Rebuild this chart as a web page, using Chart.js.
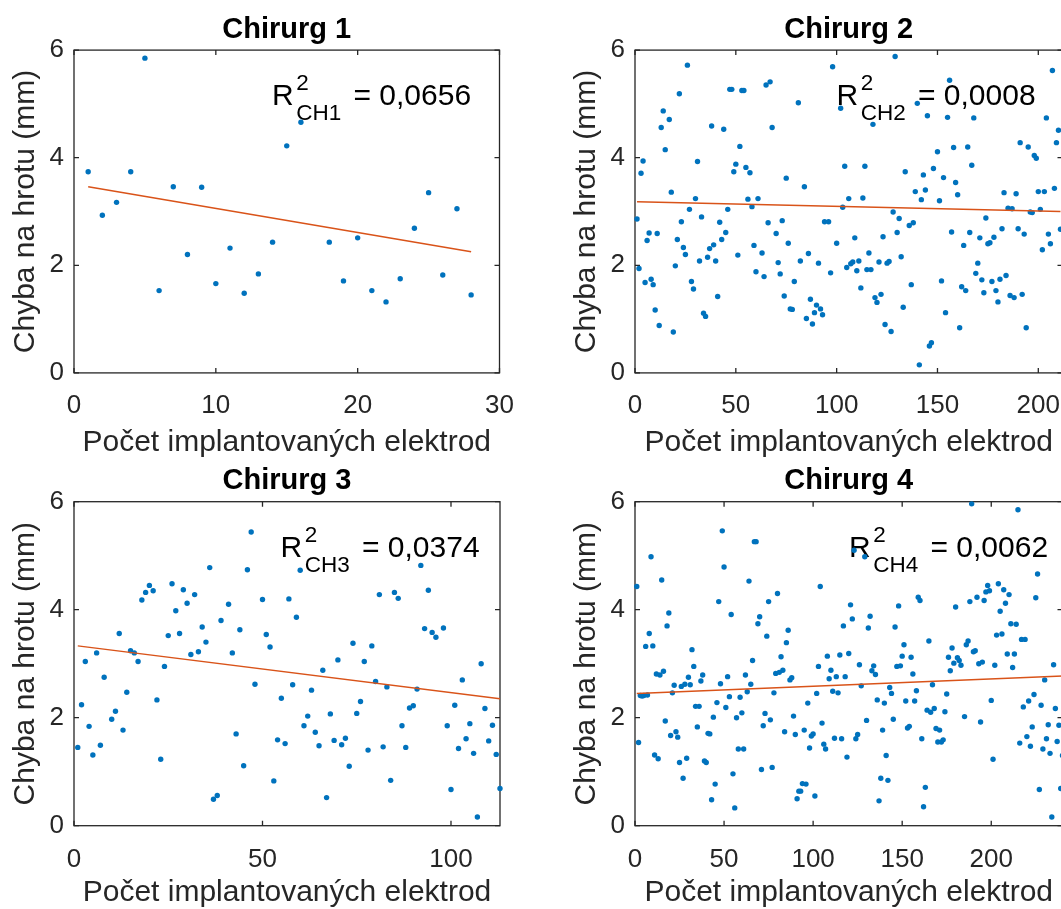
<!DOCTYPE html>
<html>
<head>
<meta charset="utf-8">
<script src="https://cdn.jsdelivr.net/npm/chart.js@4.4.1/dist/chart.umd.min.js"></script>
<style>
  html, body { margin: 0; padding: 0; background: #fff; overflow: hidden; width: 1061px; height: 909px; }
  canvas { position: absolute; }
</style>
</head>
<body>
<canvas id="c1" width="561" height="470" style="left:0;top:0"></canvas>
<canvas id="c2" width="561" height="470" style="left:561px;top:0"></canvas>
<canvas id="c3" width="561" height="470" style="left:0;top:455px"></canvas>
<canvas id="c4" width="561" height="470" style="left:561px;top:455px"></canvas>
<script>
// ---- data: tip error (mm) versus number of implanted electrodes, per surgeon ----
const xLabel = 'Počet implantovaných elektrod';
const yLabel = 'Chyba na hrotu (mm)';
const panelTitles = ['Chirurg 1', 'Chirurg 2', 'Chirurg 3', 'Chirurg 4'];
const r2Subscripts = ['CH1', 'CH2', 'CH3', 'CH4'];
const r2Values = ['0,0656', '0,0008', '0,0374', '0,0062'];
const yTicks = [0, 2, 4, 6];

const ch1X = [1,2,3,4,5,6,7,8,9,10,11,12,13,14,15,16,18,19,20,21,22,23,24,25,26,27,28];
const ch1Y = [3.74,2.93,3.17,3.74,5.85,1.53,3.46,2.20,3.45,1.66,2.32,1.48,1.84,2.43,4.22,4.66,2.43,1.71,2.51,1.53,1.32,1.75,2.69,3.35,1.82,3.05,1.45];
const ch1FitX = [1, 28];
const ch1FitY = [3.46, 2.25];

const ch2X = [1,2,3,4,5,6,7,8,9,10,11,12,13,14,15,17,18,19,20,21,22,23,24,25,26,27,28,29,30,
  31,32,33,34,35,36,37,38,39,40,41,42,43,44,45,46,47,48,49,50,51,52,53,54,55,56,57,58,59,60,
  61,63,64,65,66,67,68,70,71,72,73,74,75,76,77,78,79,81,82,84,85,86,87,88,89,90,
  91,92,93,94,96,97,98,100,102,103,104,105,106,107,108,109,110,111,112,113,114,115,116,117,118,119,120,
  121,122,123,124,125,126,127,128,129,130,131,132,133,134,136,137,138,139,140,141,142,143,144,145,146,147,148,150,
  151,152,153,154,155,156,157,158,159,160,161,162,163,164,165,166,167,168,169,170,171,172,173,174,175,176,177,178,179,180,
  181,182,183,184,185,186,187,188,189,190,191,192,193,194,195,196,197,198,199,200,201,202,203,204,205,206,207,208,209,210,211];
const ch2Y = [2.86,1.94,3.71,3.94,1.68,2.46,2.60,1.74,1.64,1.17,2.59,0.88,4.56,4.87,4.15,4.71,3.36,0.76,1.99,2.48,5.19,2.81,2.33,2.20,5.72,3.04,1.70,1.56,3.24,
  3.93,2.08,2.90,1.11,1.05,2.15,2.31,4.59,2.38,2.08,1.42,2.80,2.48,4.53,2.61,3.04,5.27,5.27,3.74,3.88,2.19,4.21,5.25,5.25,3.82,3.23,3.72,3.09,2.37,1.88,
  3.24,2.23,1.79,5.35,2.79,5.41,4.56,2.59,2.05,1.84,2.83,1.43,3.62,2.41,1.19,1.18,1.70,5.02,2.08,3.46,1.01,2.22,1.37,0.91,1.12,1.26,
  2.04,1.19,1.08,2.81,2.81,1.86,5.69,2.41,4.92,3.08,3.84,1.96,3.24,2.03,2.06,2.51,1.90,2.08,1.58,3.25,3.84,1.92,2.23,1.92,4.62,1.40,1.31,
  2.06,1.46,2.53,0.90,2.04,2.07,0.77,2.99,5.88,2.61,2.87,2.16,1.22,3.74,2.74,1.64,2.79,3.37,5.01,0.15,3.22,3.68,3.40,4.78,0.50,0.56,3.80,4.11,
  3.20,1.71,3.63,1.12,4.75,5.44,2.62,4.19,3.54,3.31,0.84,1.60,2.37,1.53,4.20,2.61,3.86,4.74,1.85,2.04,2.51,1.73,1.49,2.88,2.40,2.42,1.70,2.52,1.53,1.32,
  1.74,2.68,3.35,1.81,3.06,1.44,3.05,1.40,3.33,2.68,4.28,1.46,2.58,0.84,4.20,2.99,2.98,4.04,3.99,3.37,3.04,2.29,3.37,4.74,2.58,2.40,5.62,3.43,4.28,4.51,2.67];
const ch2FitX = [1, 211];
const ch2FitY = [3.18, 3.00];

const ch3X = [1,2,3,4,5,6,7,8,10,11,12,13,14,15,16,17,18,19,20,21,22,23,24,25,26,27,28,29,30,
  31,32,33,34,35,36,37,38,39,41,42,43,44,45,46,47,48,50,51,52,53,54,55,56,57,58,59,60,
  61,62,63,64,65,66,67,68,69,70,71,72,73,74,75,76,77,78,79,80,81,82,83,84,85,86,87,88,89,90,
  91,92,93,94,95,96,98,99,100,101,102,103,104,105,106,107,108,109,110,111,112,113];
const ch3Y = [1.45,2.24,3.04,1.84,1.31,3.20,1.49,2.75,1.97,2.12,3.56,1.77,2.47,3.24,3.20,3.04,4.18,4.32,4.45,4.35,2.33,1.23,2.95,3.52,4.48,3.98,3.56,4.37,4.12,
  3.17,4.28,3.22,3.68,3.40,4.78,0.49,0.56,3.80,4.10,3.20,1.70,3.63,1.11,4.74,5.44,2.62,4.19,3.54,3.31,0.83,1.59,2.36,1.52,4.20,2.61,3.86,4.73,
  1.85,2.03,2.51,1.73,1.48,2.88,0.52,2.07,1.58,3.07,1.50,1.62,1.10,3.38,2.08,2.30,3.04,1.40,3.33,2.67,4.28,1.46,2.57,0.84,4.32,4.21,1.85,1.45,2.18,2.22,
  2.53,4.82,3.65,4.36,3.58,3.49,3.66,1.85,0.67,2.23,1.43,2.70,1.61,1.89,1.34,0.16,3.00,2.17,1.57,1.86,1.32,0.69];
const ch3FitX = [1, 113];
const ch3FitY = [3.33, 2.35];

const ch4X = [1,2,3,4,5,6,7,8,9,10,11,12,13,14,15,16,17,18,19,20,21,22,23,24,25,26,27,28,29,30,
  31,32,33,34,35,36,37,38,39,40,41,42,43,44,45,46,47,48,49,50,51,52,53,54,55,56,57,58,59,60,
  61,62,63,64,65,66,67,68,69,70,71,72,73,74,75,76,77,78,79,80,81,82,83,84,85,86,87,88,89,90,
  91,92,93,94,95,96,97,98,99,100,101,102,103,104,105,106,107,108,109,110,111,112,113,114,115,116,117,118,119,120,
  121,122,123,124,125,126,127,129,130,131,132,133,134,135,136,137,138,139,140,141,142,143,144,145,146,147,148,149,150,
  151,152,153,154,155,156,157,158,159,160,161,162,163,164,165,166,167,168,169,170,171,172,173,174,175,176,177,178,179,180,
  181,182,183,185,186,187,188,189,190,191,192,193,194,195,196,197,198,199,200,201,202,203,204,205,206,207,208,209,210,
  211,212,213,214,215,216,217,218,219,220,221,222,223,224,225,226,227,228,229,230,231,232,233,234,235,236,237,238,239,240];
const ch4Y = [4.43,1.54,2.41,2.40,2.41,3.32,2.42,3.56,4.98,3.33,1.31,2.81,1.24,2.79,4.55,2.86,1.94,3.70,3.94,1.67,2.46,2.60,1.74,1.64,1.17,2.58,0.88,2.62,1.25,2.75,
  2.61,3.26,2.95,2.21,1.83,2.21,2.68,2.79,1.20,1.17,1.71,1.70,0.48,2.01,0.77,2.28,4.15,2.63,5.46,4.79,2.19,2.76,2.39,3.91,0.96,0.33,2.00,1.42,2.38,2.09,
  1.42,2.79,2.48,4.53,2.62,3.06,5.26,5.26,3.74,3.87,1.04,1.85,2.08,3.51,4.15,1.96,1.08,2.46,2.82,4.30,2.84,3.13,2.88,1.74,3.39,3.62,2.70,2.74,2.03,1.69,
  0.50,0.64,0.64,0.78,1.77,0.77,2.27,1.44,1.66,1.70,0.55,2.45,2.95,4.43,1.90,1.51,1.42,3.14,2.72,2.88,2.49,1.62,2.76,2.46,3.16,1.61,3.70,2.76,1.27,3.19,
  4.09,3.83,5.10,1.61,1.69,2.98,2.59,4.98,1.95,3.66,3.88,2.87,2.96,2.80,2.33,0.46,0.88,1.77,2.27,1.30,0.84,2.56,2.45,1.97,3.68,2.95,4.07,2.96,3.14,
  3.35,2.31,1.81,1.84,3.12,2.81,2.31,2.50,4.23,4.17,1.61,0.35,0.71,2.14,3.42,2.10,2.61,2.17,1.80,1.55,1.77,1.55,1.59,2.11,2.44,3.12,2.87,3.29,3.01,4.05,
  3.11,3.06,2.97,2.02,3.35,3.42,4.15,5.96,3.22,3.24,4.23,3.00,1.92,3.03,4.17,4.33,4.45,4.35,2.32,1.23,2.97,3.53,4.48,3.97,3.55,4.37,4.12,3.18,4.28,
  3.74,2.93,3.18,3.73,5.85,1.53,3.45,2.20,3.45,1.65,2.31,1.47,1.83,2.43,4.22,4.66,0.67,2.23,1.42,2.70,1.61,1.87,1.34,0.16,2.98,2.17,1.56,1.86,0.69,1.30];
const ch4FitX = [1, 240];
const ch4FitY = [2.45, 2.77];

// ---- drawing ----
const FONT = "'Liberation Sans', Arial, Helvetica, sans-serif";
const AXIS_COLOR = '#262626';
const DOT_COLOR = '#0072BD';
const FIT_COLOR = '#D95319';

function toPoints(xs, ys) { return xs.map((x, i) => ({ x: x, y: ys[i] })); }

// box around the plot area with inward tick marks on all four sides
const framePlugin = {
  id: 'frame',
  beforeDatasetsDraw(chart) {
    const { ctx, chartArea: a, scales: { x, y } } = chart;
    const L = 5;
    ctx.save();
    ctx.strokeStyle = AXIS_COLOR;
    ctx.lineWidth = 1.3;
    ctx.strokeRect(a.left, a.top, a.right - a.left, a.bottom - a.top);
    ctx.beginPath();
    x.ticks.forEach(t => {
      const px = x.getPixelForValue(t.value);
      ctx.moveTo(px, a.bottom); ctx.lineTo(px, a.bottom - L);
      ctx.moveTo(px, a.top); ctx.lineTo(px, a.top + L);
    });
    y.ticks.forEach(t => {
      const py = y.getPixelForValue(t.value);
      ctx.moveTo(a.left, py); ctx.lineTo(a.left + L, py);
      ctx.moveTo(a.right, py); ctx.lineTo(a.right - L, py);
    });
    ctx.stroke();
    ctx.restore();
  }
};

// coefficient of determination label: R with superscript 2 and surgeon subscript
const r2Plugin = {
  id: 'r2',
  beforeDatasetsDraw(chart, args, o) {
    const { ctx, chartArea: a } = chart;
    const x0 = a.left + o.dx, base = a.top + o.dy;
    ctx.save();
    ctx.fillStyle = '#000';
    ctx.textAlign = 'left';
    ctx.textBaseline = 'alphabetic';
    ctx.font = '30px ' + FONT;
    ctx.fillText('R', x0, base);
    const xs = x0 + ctx.measureText('R').width + 2.5;
    ctx.font = '22.5px ' + FONT;
    ctx.fillText('2', xs, base - 15);
    ctx.fillText(o.sub, xs, base + 14.5);
    const xe = xs + ctx.measureText(o.sub).width + 12.3;
    ctx.font = '30px ' + FONT;
    ctx.fillText('= ' + o.value, xe, base);
    ctx.restore();
  }
};

function drawPanel(id, p) {
  return new Chart(document.getElementById(id), {
    type: 'scatter',
    data: {
      datasets: [
        {
          type: 'line',
          data: toPoints(p.fitX, p.fitY),
          borderColor: FIT_COLOR,
          borderWidth: 1.5,
          pointRadius: 0,
          fill: false,
          tension: 0
        },
        {
          data: toPoints(p.xs, p.ys),
          backgroundColor: DOT_COLOR,
          borderWidth: 0,
          pointRadius: 2.7,
          pointHoverRadius: 2.7,
          clip: false
        }
      ]
    },
    options: {
      responsive: false,
      animation: false,
      events: [],
      layout: { padding: { left: 0, top: 0, right: p.padRight, bottom: 0 } },
      plugins: {
        legend: { display: false },
        tooltip: { enabled: false },
        title: {
          display: true,
          fullSize: false,
          text: p.title,
          color: '#000',
          font: { family: FONT, size: 29, weight: 'bold', lineHeight: 1 },
          padding: { top: p.titleTop, bottom: p.titleBottom }
        },
        r2: { sub: p.sub, value: p.value, dx: p.r2dx, dy: p.r2dy }
      },
      scales: {
        x: {
          type: 'linear',
          min: 0,
          max: p.xMax,
          grid: { display: false, drawTicks: false },
          border: { display: false },
          ticks: {
            stepSize: p.xStep,
            includeBounds: false,
            autoSkip: false,
            maxRotation: 0,
            color: AXIS_COLOR,
            font: { family: FONT, size: 26 },
            padding: p.xTickPad
          },
          title: {
            display: true,
            text: xLabel,
            color: AXIS_COLOR,
            font: { family: FONT, size: 30, lineHeight: 1 },
            padding: { top: 0, bottom: p.xTitleBottom }
          },
          afterFit: s => { s.height = p.xAxisHeight; }
        },
        y: {
          type: 'linear',
          min: 0,
          max: 6,
          grid: { display: false, drawTicks: false },
          border: { display: false },
          afterBuildTicks: s => { s.ticks = yTicks.map(v => ({ value: v })); },
          ticks: {
            color: AXIS_COLOR,
            font: { family: FONT, size: 26 },
            padding: 10
          },
          title: {
            display: true,
            text: yLabel,
            color: AXIS_COLOR,
            font: { family: FONT, size: 30, lineHeight: 1 },
            padding: { top: 11, bottom: 0 }
          },
          afterFit: s => { s.width = 74; }
        }
      }
    },
    plugins: [framePlugin, r2Plugin]
  });
}

const topRow = { titleTop: 15.1, titleBottom: 6.0, xTickPad: 17.2, xAxisHeight: 97.1, xTitleBottom: 12.5, r2dy: 54.9 };
const bottomRow = { titleTop: 11.8, titleBottom: 5.9, xTickPad: 19, xAxisHeight: 99.3, xTitleBottom: 17.5, r2dy: 55.3 };

drawPanel('c1', Object.assign({}, topRow, {
  title: panelTitles[0], sub: r2Subscripts[0], value: r2Values[0],
  xs: ch1X, ys: ch1Y, fitX: ch1FitX, fitY: ch1FitY,
  xMax: 30, xStep: 10, padRight: 61.5, r2dx: 198
}));
drawPanel('c2', Object.assign({}, topRow, {
  title: panelTitles[1], sub: r2Subscripts[1], value: r2Values[1],
  xs: ch2X, ys: ch2Y, fitX: ch2FitX, fitY: ch2FitY,
  xMax: 212, xStep: 50, padRight: 59.5, r2dx: 201.5
}));
drawPanel('c3', Object.assign({}, bottomRow, {
  title: panelTitles[2], sub: r2Subscripts[2], value: r2Values[2],
  xs: ch3X, ys: ch3Y, fitX: ch3FitX, fitY: ch3FitY,
  xMax: 113, xStep: 50, padRight: 61, r2dx: 206.5
}));
drawPanel('c4', Object.assign({}, bottomRow, {
  title: panelTitles[3], sub: r2Subscripts[3], value: r2Values[3],
  xs: ch4X, ys: ch4Y, fitX: ch4FitX, fitY: ch4FitY,
  xMax: 240, xStep: 50, padRight: 59.5, r2dx: 214
}));
</script>
</body>
</html>
